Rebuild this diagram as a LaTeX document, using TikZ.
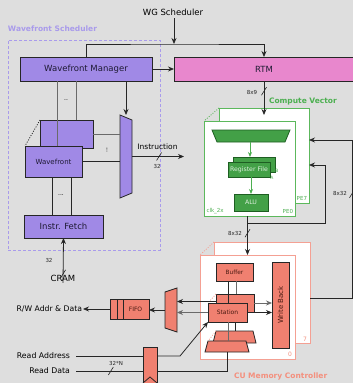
\documentclass[tikz,border=0pt]{standalone}
\usepackage{fontspec}
\setmainfont{DejaVu Sans}
\usepackage{graphicx}
\usetikzlibrary{arrows.meta,calc}
\definecolor{cubg}{HTML}{DEDEDE}
\definecolor{wfpurple}{HTML}{A089E6}
\definecolor{wfline}{HTML}{A99BEB}
\definecolor{wftext}{HTML}{1E1A33}
\definecolor{rtmpink}{HTML}{E887CD}
\definecolor{cvgreen}{HTML}{43A047}
\definecolor{gdark}{HTML}{1E5E22}
\definecolor{gtext}{HTML}{DDEFDD}
\definecolor{cvline}{HTML}{5CB85C}
\definecolor{cvtext}{HTML}{4CAF50}
\definecolor{cmsalmon}{HTML}{F08070}
\definecolor{cmline}{HTML}{F4A093}
\definecolor{cmtext}{HTML}{F4907E}
\definecolor{stext}{HTML}{4A1A12}
\definecolor{wire}{HTML}{262626}
\definecolor{wiregrey}{HTML}{6A6A6A}
\newcommand{\busmark}[1]{\draw[wire,line width=.6pt] ([shift={(-2.5pt,-4pt)}]#1) -- ([shift={(2.5pt,4pt)}]#1);}

\begin{document}
\begin{tikzpicture}[x=1pt,y=-1pt,
every node/.style={inner sep=0pt,outer sep=0pt},
sz/.style 2 args={minimum width=#1pt,minimum height=#2pt},
ft/.style={font=\fontsize{#1}{#1}\selectfont},
title/.style={font=\fontsize{7.5}{7.5}\selectfont\bfseries},
wfbox/.style={draw=wire,line width=.8pt,fill=wfpurple,text=wftext},
rtmbox/.style={wfbox,fill=rtmpink},
schedbox/.style={draw=wfline,line width=.8pt,dash pattern=on 3pt off 2pt},
cvbox/.style={draw=cvline,line width=.8pt,fill=white},
gbox/.style={draw=gdark,line width=.8pt,fill=cvgreen,text=gtext},
cmbox/.style={draw=cmline,line width=.8pt,fill=white},
sbox/.style={draw=wire,line width=.8pt,fill=cmsalmon,text=stext},
wln/.style={draw=wire,line width=.8pt},
gln/.style={draw=wiregrey,line width=.8pt},
dots/.style={line width=.8pt,dash pattern=on 1pt off 1.5pt},
arr/.style={wln,-{Stealth[length=6pt,width=5pt]}},
garr/.style={gln,-{Stealth[length=6pt,width=5pt]}},
cvarr/.style={draw=cvtext,line width=.8pt,-{Stealth[length=5pt,width=4pt]}},
busl/.style={ft=5.5,text=wire}
]
\fill[cubg] (0,0) rectangle (353,383);
\useasboundingbox (0,0) rectangle (353,383);

% wavefront scheduler
\node[schedbox,sz={152}{210}] (sched) at (84,145) {};
\node[title,text=wfline,anchor=west] (schedl) at (8,29) {Wavefront Scheduler};
\node[ft=8.5] (wg) at (173,12) {WG Scheduler};
\node[wfbox,sz={132}{24},ft=8.5] (wfm) at (86,69) {Wavefront Manager};
\node[rtmbox,sz={180}{24},ft=8.5] (rtm) at (264,69) {RTM};
\node[wfbox,sz={53}{28}] (wfb) at (66.5,134) {};
\node[wfbox,sz={57}{31},ft=7] (wf) at (53.5,161.5) {Wavefront};
\node[sz={12}{83}] (imux) at (126,156.5) {};
\draw[wfbox] (imux.north west) -- ([yshift=-5pt]imux.north east) -- ([yshift=5pt]imux.south east) -- (imux.south west) -- cycle;
\node[wfbox,sz={79}{23},ft=8.5] (fetch) at (63.5,226.5) {Instr. Fetch};
\node[ft=8.5] (cram) at (63,278) {CRAM};
\node[ft=6] (dd1) at (66,100) {..};
\node[ft=6,rotate=90] (dd2) at (107,150) {...};
\node[ft=6] (dd3) at (61,195) {...};

% compute vector
\node[cvbox,sz={90}{95}] (cvb) at (264,155.5) {};
\node[cvbox,sz={91}{95}] (cvf) at (249.5,168.5) {};
\node[title,text=cvtext,anchor=west] (cvl) at (269,101) {Compute Vector};
\node[sz={78}{12}] (dec) at (251,136) {};
\draw[gbox] (dec.north west) -- (dec.north east) -- ([xshift=-5pt]dec.south east) -- ([xshift=5pt]dec.south west) -- cycle;
\node[gbox,sz={42}{15}] (rfb) at (254,164.5) {};
\node[gbox,sz={42}{15},ft=6.2] (rf) at (249,169.5) {Register File};
\node[gbox,sz={34}{17},ft=6.2] (alu) at (251,202.5) {ALU};
\node[ft=4.5,text=cvtext] (rfbl) at (277,171) {B};
\node[ft=4.5,text=cvtext] (rfal) at (272,177.5) {A};
\node[ft=5.5,text=cvtext,anchor=south west] (clk) at ([shift={(2.5pt,2.5pt)}]cvf.south west) {clk\_2x};
\node[ft=5.5,text=cvtext,anchor=south east] (pe0) at ([shift={(-2pt,2.5pt)}]cvf.south east) {PE0};
\node[ft=5.5,text=cvtext,anchor=south east] (pe7) at ([shift={(-2pt,2.5pt)}]cvb.south east) {PE7};

% cu memory controller
\node[cmbox,sz={96}{101}] (cmb) at (262,292.5) {};
\node[cmbox,sz={95}{104}] (cmf) at (247.5,307) {};
\node[title,text=cmtext,anchor=west] (cml) at (234,376) {CU Memory Controller};
\node[ft=6,text=cmtext,anchor=south east] (cm0) at ([shift={(-3pt,2pt)}]cmf.south east) {0};
\node[ft=6,text=cmtext,anchor=south east] (cm7) at ([shift={(-3pt,2pt)}]cmb.south east) {7};
\node[sbox,sz={37}{18},ft=5.8] (buf) at (234.5,272) {Buffer};
\node[sbox,sz={17}{86},ft=7] (wb) at (280.5,305) {\rotatebox{90}{Write Back}};
\node[sbox,sz={38}{18}] (stb) at (235,303) {};
\node[sbox,sz={39}{19},ft=6] (st) at (227.5,312.5) {Station};
\node[sz={43}{12}] (trb) at (234.5,337) {};
\draw[sbox] ([xshift=3pt]trb.north west) -- ([xshift=-3pt]trb.north east) -- (trb.south east) -- (trb.south west) -- cycle;
\node[sz={44}{11}] (trf) at (227,346.5) {};
\draw[sbox] ([xshift=3pt]trf.north west) -- ([xshift=-3pt]trf.north east) -- (trf.south east) -- (trf.south west) -- cycle;
\node[sz={12}{44}] (omux) at (171,310) {};
\draw[sbox] ([yshift=-4pt]omux.north west) -- (omux.north east) -- (omux.south east) -- ([yshift=4pt]omux.south west) -- cycle;
\node[sbox,sz={39}{20},ft=6] (fifo) at (129.5,309) {\hspace*{12pt}FIFO};
\node[ft=7.7,anchor=east,inner xsep=1pt] (rw) at (83,309) {R/W Addr \& Data};
\node[sbox,sz={14}{42}] (reg) at (150,368) {};
\node[ft=7.8,anchor=east,inner xsep=6pt] (radr) at (76,356) {Read Address};
\node[ft=7.8,anchor=east,inner xsep=6pt] (rdat) at (76,371) {Read Data};

% scheduler wiring
\coordinate (wgj) at (174,44);
\draw[arr] ([yshift=-3pt]wg.south -| wgj) -- (wgj);
\draw[arr] (wfm.north) |- (wgj) -| (rtm.north);
\draw[arr] (wfm.east) -- (rtm.west);
\draw[arr] (wfm.south -| imux) -- (imux.north);
\draw[gln] ([xshift=9.5pt]wfb.north) -- ([xshift=9.5pt]wfb.north |- wfm.south);
\draw[gln] ([xshift=3.5pt]wf.north) -- ([xshift=3.5pt]wf.north |- wfm.south);
\draw[gln] (wfb.east) -- (wfb.east -| imux.west);
\draw[wln] (wf.east) -- (wf.east -| imux.west);
\draw[wln] ([xshift=-1.5pt]wf.south) -- ([xshift=-1.5pt]wf.south |- fetch.north);
\draw[wln] ([xshift=17.5pt]wf.south) -- ([xshift=17.5pt]wf.south |- fetch.north);
\draw[wire,dots] (wfb.north west) -- (wf.north west);
\coordinate (iout) at (184,156);
\draw[arr] (imux.east) -- coordinate[pos=.52] (ib) (imux.east -| iout);
\busmark{ib}
\node[ft=7.5] (instl) at (157.5,147) {Instruction};
\node[busl] (instw) at (157,166) {32};
\draw[arr] ([yshift=-8pt]cram.north) -- coordinate[pos=.2] (cb) (fetch.south);
\busmark{cb}
\node[busl] (cramw) at (49,260) {32};

% compute vector wiring
\draw[arr] (rtm.south) -- coordinate[pos=.3] (rb) ([yshift=-7pt]cvb.north);
\busmark{rb}
\node[busl] (rtmw) at (252,92) {8x9};
\draw[cvline,dots] (cvb.north west) -- (cvf.north west);
\draw[cvarr] ([xshift=-1pt]dec.south) -- ([xshift=-1pt]dec.south |- rfb.north);
\draw[cvarr] (rf.south -| alu) -- (alu.north);
\draw[arr] (cvf.south -| cmf.north) -- coordinate[pos=.2] (cs) coordinate[pos=.44] (cvw) (cmf.north);
\busmark{cvw}
\node[busl] (cvwl) at (235,233) {8x32};
\draw[arr] (cs) -- ++(78,0) |- ([yshift=-9.5pt]cvb.east);
\draw[arr] ([yshift=-5.5pt]cmb.east) -- ++(42,0) |- coordinate[pos=.33] (ow) ([yshift=15.5pt]cvb.east);
\busmark{ow}
\node[busl] (owl) at (340,193) {8x32};

% memory controller wiring
\draw[cmline,dots] (cmb.north west) -- (cmf.north west);
\draw[cmline,dots] (stb.north west) -- (st.north west);
\draw[cmline,dots] ([xshift=3pt]trb.north west) -- ([xshift=3pt]trf.north west);
\draw[wln] ([xshift=-6.5pt]buf.south) -- ([xshift=-6.5pt]buf.south |- st.north);
\draw[gln] ([xshift=1.5pt]buf.south) -- ([xshift=1.5pt]buf.south |- stb.north);
\draw[garr] (stb.east) -- (stb.east -| wb.west);
\draw[arr] (st.east) -- (st.east -| wb.west);
\draw[arr] ([yshift=1.5pt]stb.west) -- ([yshift=1.5pt]stb.west -| omux.east);
\draw[garr] (st.west) -- (st.west -| omux.east);
\draw[arr] (omux.west) -- (omux.west -| fifo.east);
\draw[wln] ([xshift=7pt]fifo.north west) -- ([xshift=7pt]fifo.south west);
\draw[wln] ([xshift=13pt]fifo.north west) -- ([xshift=13pt]fifo.south west);
\draw[arr] (fifo.west) -- (rw.east);
\draw[gln] ([xshift=.5pt]st.south) -- ([xshift=.5pt]st.south |- trf.north);
\draw[wln] ([xshift=7.5pt]st.south) -- ([xshift=7.5pt]st.south |- trb.north);
\draw[wln] ([yshift=6pt]reg.south west) -- ([yshift=12pt]reg.south) -- ([yshift=6pt]reg.south east);
\draw[wln] (radr.east) -- (radr.east -| reg.west);
\draw[wln] (rdat.east) -- coordinate[pos=.52] (db) (rdat.east -| reg.west);
\busmark{db}
\node[busl] (dbl) at (116,363) {32*N};
\draw[arr] (reg.east |- radr) -- ++(23,0) -- (st.south west);
\draw[wln] (reg.east |- rdat) -| (trf.south);
\end{tikzpicture}
\end{document}
